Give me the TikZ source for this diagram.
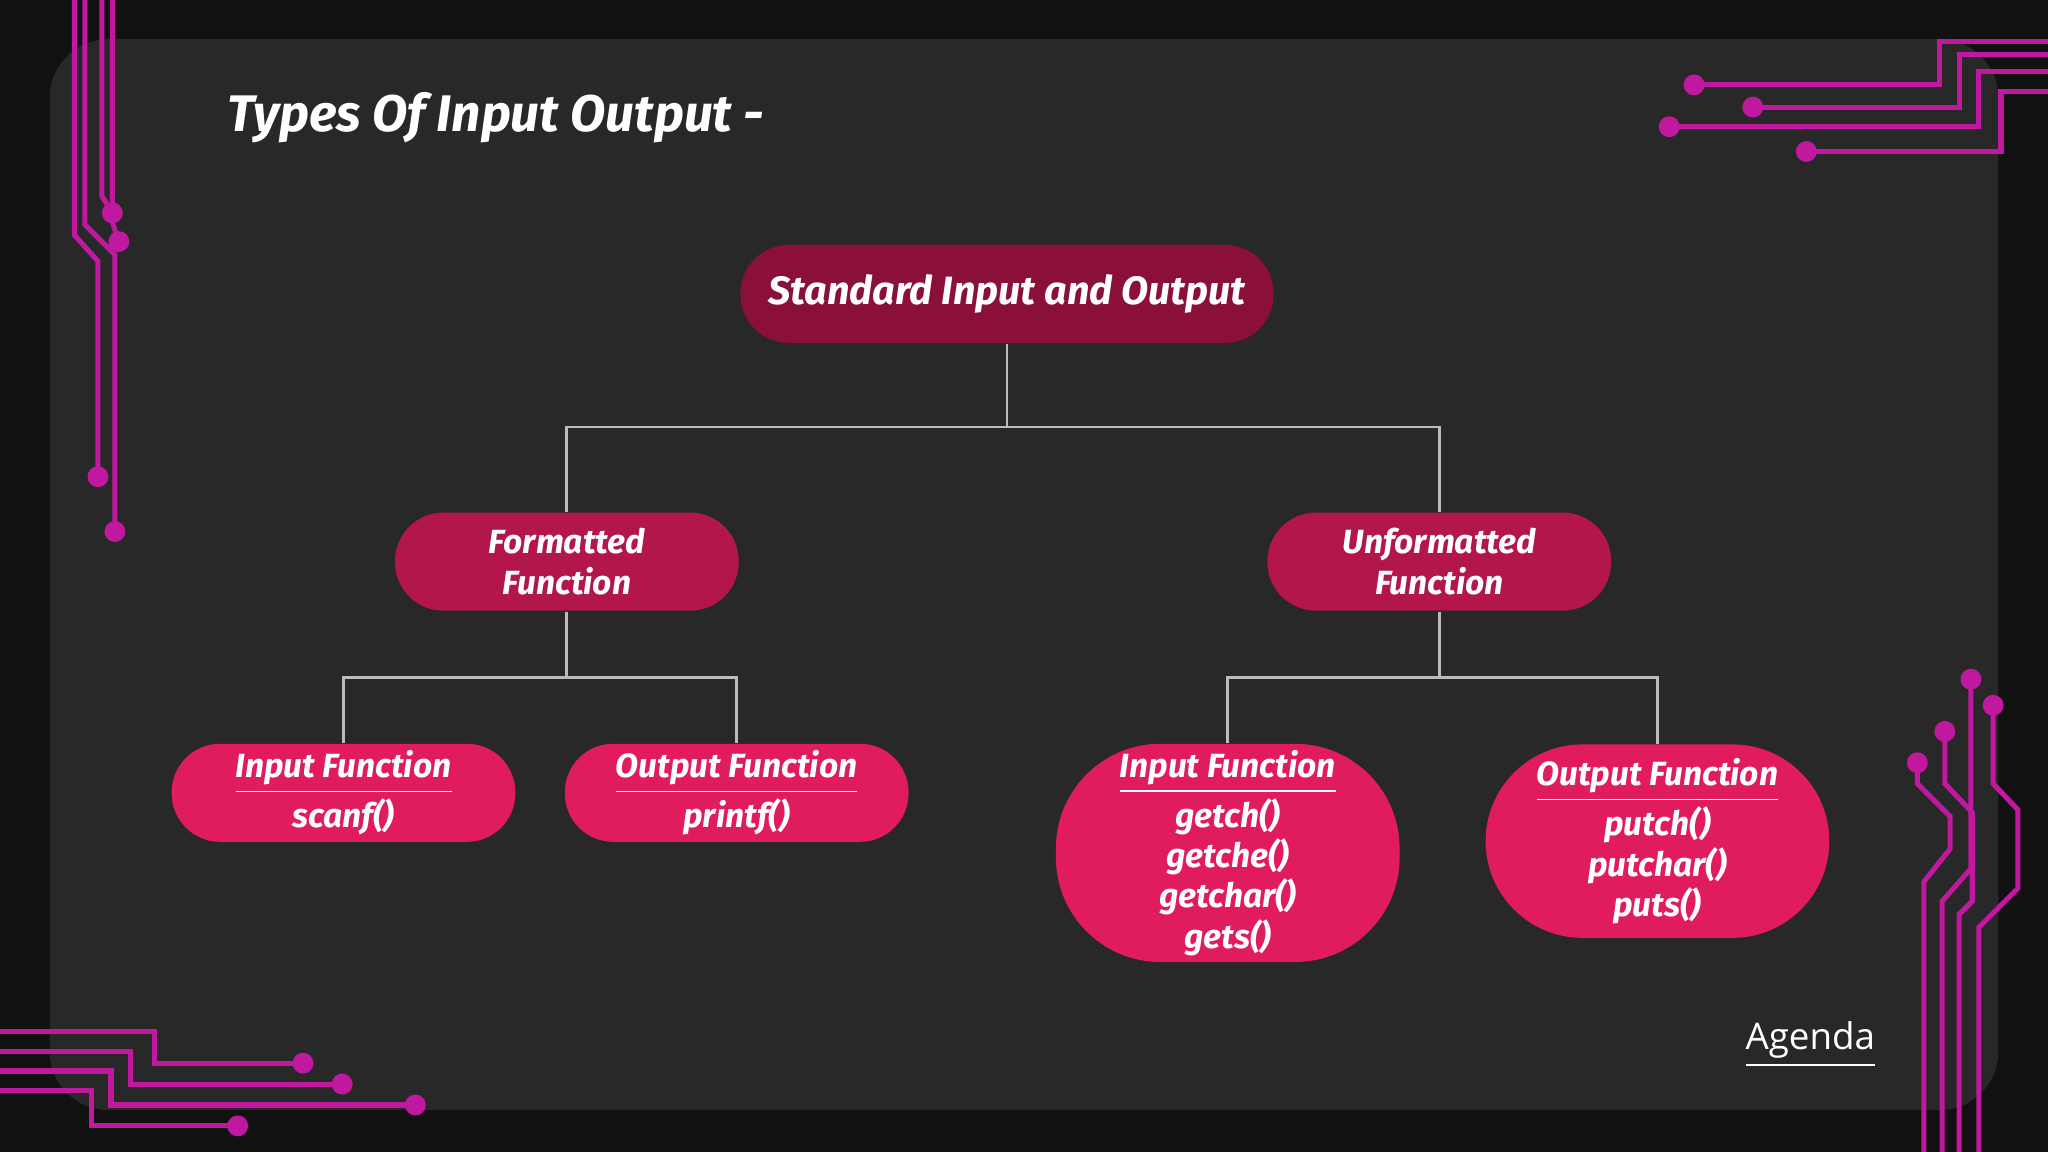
\documentclass[tikz,border=0pt]{standalone}
\usepackage{fontspec}
\setmainfont{Fira Sans}
\newfontfamily\agendafont{Open Sans}
\definecolor{bgdark}{HTML}{111111}
\definecolor{panel}{HTML}{282828}
\definecolor{rootred}{HTML}{8A1038}
\definecolor{midred}{HTML}{B3164B}
\definecolor{leafred}{HTML}{E01C5C}
\definecolor{wire}{HTML}{C0189E}
\definecolor{link}{HTML}{BBBBBB}

\tikzset{
  box/.style={rounded corners=0.37cm, text=white, align=center,
    font=\fontsize{7.3}{8.8}\selectfont\bfseries\itshape, inner sep=0pt},
  rootbox/.style={box, fill=rootred, minimum width=4.08cm, minimum height=0.75cm,
    font=\fontsize{8.6}{10}\selectfont\bfseries\itshape},
  midbox/.style={box, fill=midred, minimum width=2.63cm, minimum height=0.75cm},
  leafbox/.style={box, fill=leafred, minimum width=2.63cm, minimum height=0.75cm},
  conn/.style={draw=link, line width=0.6pt},
  wireline/.style={draw=wire, line width=1.1pt},
  pin/.style={fill=wire, circle, inner sep=0pt, minimum size=1.6mm},
}

\begin{document}
\begin{tikzpicture}[x=0.01cm, y=-0.01cm]
\useasboundingbox (0,0) rectangle (1568,882);
\fill[bgdark] (0,0) rectangle (1568,882);
\fill[panel, rounded corners=0.45cm] (38,30) rectangle (1530,850);

% title
\node[anchor=west, text=white, font=\fontsize{11.2}{13}\selectfont\bfseries\itshape] (title) at (162,90) {Types Of Input Output -};

% tree
\node[rootbox] (root) at (771,225) {Standard Input and Output};
\node[midbox] (fmt) at (434,430) {Formatted\\Function};
\node[midbox] (unfmt) at (1102,430) {Unformatted\\Function};
\node[leafbox] (fin) at (263,607) {\underline{Input Function}\\scanf()};
\node[leafbox] (fout) at (564,607) {\underline{Output Function}\\printf()};
\node[leafbox, minimum height=1.67cm, rounded corners=0.8cm] (uin) at (940,653)
  {\underline{Input Function}\\getch()\\getche()\\getchar()\\gets()};
\node[leafbox, minimum height=1.48cm, rounded corners=0.74cm] (uout) at (1269,644)
  {\underline{Output Function}\\putch()\\putchar()\\puts()};

\coordinate (split) at (771,327);
\coordinate (fsplit) at (434,519);
\coordinate (usplit) at (1102,519);
\path[conn] (root.south) -- (split);
\path[conn] (fmt.north) |- (split) -| (unfmt.north);
\path[conn] (fmt.south) -- (fsplit);
\path[conn] (fin.north) |- (fsplit) -| (fout.north);
\path[conn] (unfmt.south) -- (usplit);
\path[conn] (uin.north) |- (usplit) -| (uout.north);

\node[text=white, font=\agendafont\fontsize{8}{10}\selectfont] (agenda) at (1386,800) {\underline{Agenda}};

% circuit wires, top left
\draw[wireline] (57,0) -- (57,180) -- (75,200) -- (75,365) node[pin] {};
\draw[wireline] (65,0) -- (65,172) -- (88,195) -- (88,407) node[pin] {};
\draw[wireline] (78,0) -- (78,150) -- (86,163) node[pin] {};
\draw[wireline] (86,0) -- (86,170) -- (91,185) node[pin] {};
% top right
\draw[wireline] (1568,32) -- (1485,32) -- (1485,65) -- (1297,65) node[pin] {};
\draw[wireline] (1568,42) -- (1500,42) -- (1500,82) -- (1342,82) node[pin] {};
\draw[wireline] (1568,55) -- (1515,55) -- (1515,97) -- (1278,97) node[pin] {};
\draw[wireline] (1568,70) -- (1532,70) -- (1532,116) -- (1383,116) node[pin] {};
% bottom left
\draw[wireline] (0,790) -- (118,790) -- (118,814) -- (232,814) node[pin] {};
\draw[wireline] (0,805) -- (100,805) -- (100,830) -- (262,830) node[pin] {};
\draw[wireline] (0,820) -- (85,820) -- (85,846) -- (318,846) node[pin] {};
\draw[wireline] (0,835) -- (70,835) -- (70,862) -- (182,862) node[pin] {};
% bottom right
\draw[wireline] (1509,520) node[pin] {} -- (1509,665) -- (1487,690) -- (1487,882);
\draw[wireline] (1489,560) node[pin] {} -- (1489,600) -- (1510,622) -- (1510,690) -- (1500,700) -- (1500,882);
\draw[wireline] (1526,540) node[pin] {} -- (1526,600) -- (1545,620) -- (1545,680) -- (1515,710) -- (1515,882);
\draw[wireline] (1468,584) node[pin] {} -- (1468,600) -- (1493,625) -- (1493,650) -- (1473,675) -- (1473,882);
\end{tikzpicture}
\end{document}
